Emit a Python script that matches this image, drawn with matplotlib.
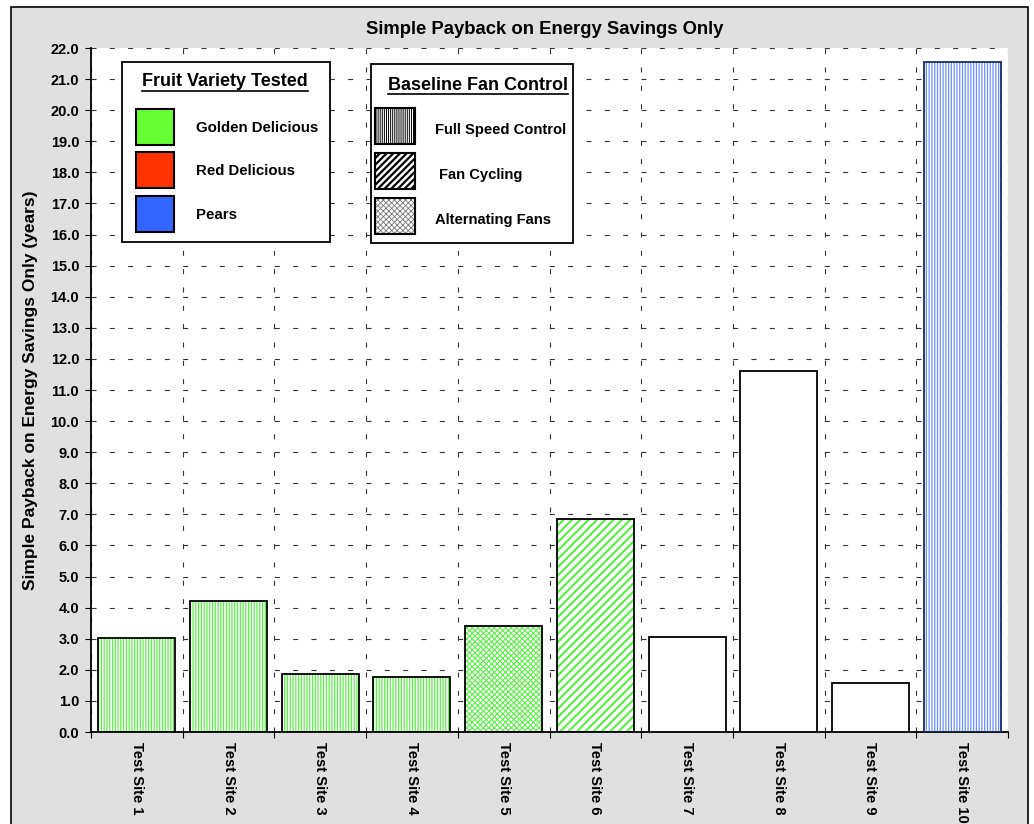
import matplotlib as mpl
import matplotlib.pyplot as plt
from matplotlib.patches import Rectangle
from matplotlib.lines import Line2D

plt.rcParams['font.family'] = ['Liberation Sans', 'DejaVu Sans']
plt.rcParams['font.weight'] = 'bold'

# Payback per site, years
sites = [f"Test Site {i}" for i in range(1, 11)]
payback = [3.03, 4.21, 1.88, 1.76, 3.40, 6.84, 3.04, 11.61, 1.57, 21.54]
variety = ["Golden Delicious"] * 6 + [None, None, None] + ["Pears"]
fan_control = ["Full Speed Control"] * 4 + ["Alternating Fans", "Fan Cycling",
                                              None, None, None, "Full Speed Control"]

variety_names = ["Golden Delicious", "Red Delicious", "Pears"]
variety_colors = {"Golden Delicious": "#66ff33", "Red Delicious": "#ff3300", "Pears": "#3366ff"}
hatch_lines = {"Golden Delicious": "#5cf048", "Pears": "#6f90ff"}
control_names = ["Full Speed Control", "Fan Cycling", "Alternating Fans"]
# hatch pattern and hatch line width per fan control
control_hatch = {"Full Speed Control": ("||||||", 0.9), "Fan Cycling": ("////", 1.6),
                 "Alternating Fans": ("xxxxxx", 0.8)}
swatch_hatch = {"Full Speed Control": ("||||||||", 0.7, "black"), "Fan Cycling": ("/////", 1.6, "black"),
                "Alternating Fans": ("xxxxxx", 0.6, "#777777")}

W, H = 1034, 824
fig = plt.figure(figsize=(W / 100, H / 100), dpi=100, facecolor="white")


def px(x, y):
    return x / W, 1 - y / H


# grey panel with border
x0, y0 = px(11, 7)
fig.add_artist(Rectangle((x0, -0.05), px(1028, 0)[0] - x0, y0 + 0.05, transform=fig.transFigure,
                         facecolor="#e0e0e0", edgecolor="black", linewidth=1.2, zorder=0))

ax = fig.add_axes([91 / W, 1 - 732 / H, (1008 - 91) / W, (732 - 48) / H])
ax.set_facecolor("white")
ax.set_axisbelow(True)

xs = list(range(len(sites)))
for i, (v, var, ctrl) in enumerate(zip(payback, variety, fan_control)):
    if var is not None:
        pattern, hlw = control_hatch[ctrl]
        with mpl.rc_context({"hatch.linewidth": hlw}):
            ax.bar(i, v, width=0.84, color="white", edgecolor=hatch_lines[var],
                   hatch=pattern, linewidth=0, zorder=2)
    edge = "#1a2a66" if var == "Pears" else "black"
    ax.bar(i, v, width=0.84, facecolor="white" if var is None else "none",
           edgecolor=edge, linewidth=1.3, zorder=3)

ax.set_xlim(-0.5, len(sites) - 0.5)
ax.set_ylim(0, 22)
ax.set_yticks([k for k in range(23)])
ax.set_yticklabels([f"{k:.1f}" for k in range(23)], fontsize=10.5, fontweight="bold")
ax.set_xticks([k - 0.5 for k in range(len(sites) + 1)])
ax.set_xticklabels([])
ax.set_xticks(xs, minor=True)
ax.set_xticklabels(sites, minor=True, rotation=-90, fontsize=10.6, fontweight="bold", va="top")
ax.tick_params(axis="x", which="minor", length=0, pad=7)
ax.tick_params(axis="x", which="major", length=4, direction="out", color="black")
ax.tick_params(axis="y", length=4, direction="out", pad=4.5)
ax.grid(True, which="major", color="#333333", linestyle=(0, (4.5, 12)), linewidth=0.8)
for s in ["top", "right"]:
    ax.spines[s].set_visible(False)
for s in ["left", "bottom"]:
    ax.spines[s].set_linewidth(1.3)

ax.set_ylabel("Simple Payback on Energy Savings Only (years)", fontsize=12.5, fontweight="bold", labelpad=9)
fig.text(*px(545, 30), "Simple Payback on Energy Savings Only", fontsize=13.3, fontweight="bold",
         ha="center", va="center")


# legend boxes drawn in figure pixels
def box(l, t, r, b):
    fl, fb = px(l, b)
    fr, ft = px(r, t)
    fig.add_artist(Rectangle((fl, fb), fr - fl, ft - fb, transform=fig.transFigure,
                             facecolor="white", edgecolor="black", linewidth=1.3, zorder=5))


def swatch(l, t, r, b, face, hatch=None):
    fl, fb = px(l, b)
    fr, ft = px(r, t)
    if hatch is not None:
        pattern, hlw, hcol = hatch
        with mpl.rc_context({"hatch.linewidth": hlw}):
            fig.add_artist(Rectangle((fl, fb), fr - fl, ft - fb, transform=fig.transFigure,
                                     facecolor=face, edgecolor=hcol, hatch=pattern, linewidth=0, zorder=6))
        face = "none"
    fig.add_artist(Rectangle((fl, fb), fr - fl, ft - fb, transform=fig.transFigure,
                             facecolor=face, edgecolor="black", linewidth=1.5, zorder=6))


def underlined(x, y, s):
    t = fig.text(*px(x, y), s, fontsize=13, fontweight="bold", ha="center", va="center", zorder=7)
    fig.canvas.draw()
    bb = t.get_window_extent()
    yl = 1 - (y + 9) / H
    fig.add_artist(Line2D([bb.x0 / W, bb.x1 / W], [yl, yl], transform=fig.transFigure,
                          color="black", linewidth=1.2, zorder=7))


box(122, 62, 330, 242)
underlined(225, 82, "Fruit Variety Tested")
for k, name in enumerate(variety_names):
    top = 109 + k * 43.3
    swatch(136, top, 174, top + 36, variety_colors[name])
    fig.text(*px(196, top + 19), name, fontsize=10.8, fontweight="bold", va="center", zorder=7)

box(371, 64, 573, 243)
underlined(478, 85, "Baseline Fan Control")
label_x = {"Full Speed Control": 435, "Fan Cycling": 439, "Alternating Fans": 435}
for k, name in enumerate(control_names):
    top = 108 + k * 45
    swatch(375, top, 415, top + 36, "white", swatch_hatch[name])
    fig.text(*px(label_x[name], top + 22), name, fontsize=10.6, fontweight="bold", va="center", zorder=7)

fig.savefig("out.png", dpi=100, facecolor=fig.get_facecolor())
